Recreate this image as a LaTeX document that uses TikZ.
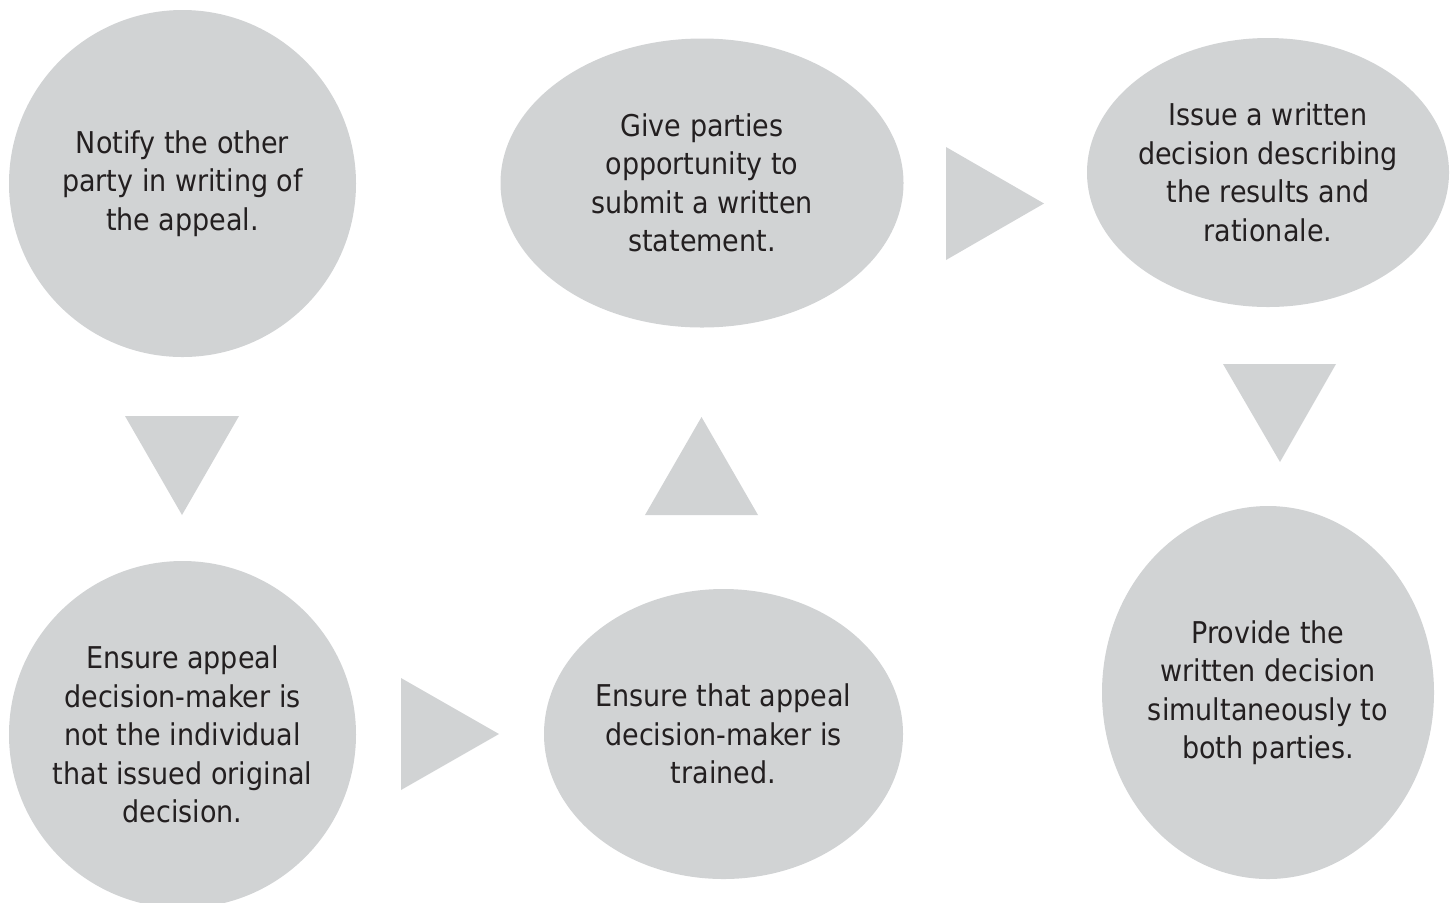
\documentclass[tikz,border=0pt]{standalone}
\usepackage{fontspec}
\setmainfont{DejaVu Sans Condensed}
\usetikzlibrary{shapes.geometric}
\definecolor{stepgray}{RGB}{209,211,212}
\definecolor{steptext}{RGB}{35,31,32}
\tikzset{every picture/.style={line width=0.75pt}}
\tikzset{
	stepnode/.style={ellipse, fill=stepgray, inner sep=-40pt, text=steptext, align=center,
		font=\fontsize{15}{19.25}\selectfont},
	pointer/.style={fill=stepgray}}

\begin{document}
\begin{tikzpicture}[x=0.5pt,y=0.5pt,yscale=-1,xscale=1]
	\useasboundingbox (0,0) rectangle (1454,902); %diagram size 1454 x 902

	%Shape: Circle [notify]
	\node[stepnode, minimum width=173.5pt, minimum height=173.5pt] (notify) at (182.5,183.5)
		{Notify the other\\party in writing of\\the appeal.};
	%Shape: Ellipse [opportunity]
	\node[stepnode, minimum width=201.5pt, minimum height=144.5pt] (opportunity) at (702,183)
		{Give parties\\opportunity to\\submit a written\\statement.};
	%Shape: Ellipse [issue]
	\node[stepnode, minimum width=181pt, minimum height=134.5pt] (issue) at (1268,172.5)
		{Issue a written\\decision describing\\the results and\\rationale.};
	%Shape: Circle [ensure]
	\node[stepnode, minimum width=173.5pt, minimum height=173.5pt] (ensure) at (182.5,734.5)
		{Ensure appeal\\decision-maker is\\not the individual\\that issued original\\decision.};
	%Shape: Ellipse [trained]
	\node[stepnode, minimum width=179.5pt, minimum height=145pt] (trained) at (723.5,734)
		{Ensure that appeal\\decision-maker is\\trained.};
	%Shape: Ellipse [provide]
	\node[stepnode, minimum width=166pt, minimum height=186.5pt] (provide) at (1268,692.5)
		{Provide the\\written decision\\simultaneously to\\both parties.};

	%Shape: Triangle [notify to ensure]
	\fill[pointer] (125,416) -- (239,416) -- (182,515) -- cycle ;
	%Shape: Triangle [ensure to trained]
	\fill[pointer] (401,678) -- (401,790) -- (499,734) -- cycle ;
	%Shape: Triangle [trained to opportunity]
	\fill[pointer] (645,515) -- (758,515) -- (701.5,417) -- cycle ;
	%Shape: Triangle [opportunity to issue]
	\fill[pointer] (946,147) -- (946,260) -- (1044,203.5) -- cycle ;
	%Shape: Triangle [issue to provide]
	\fill[pointer] (1223,364) -- (1336,364) -- (1280,462) -- cycle ;

\end{tikzpicture}
\end{document}
